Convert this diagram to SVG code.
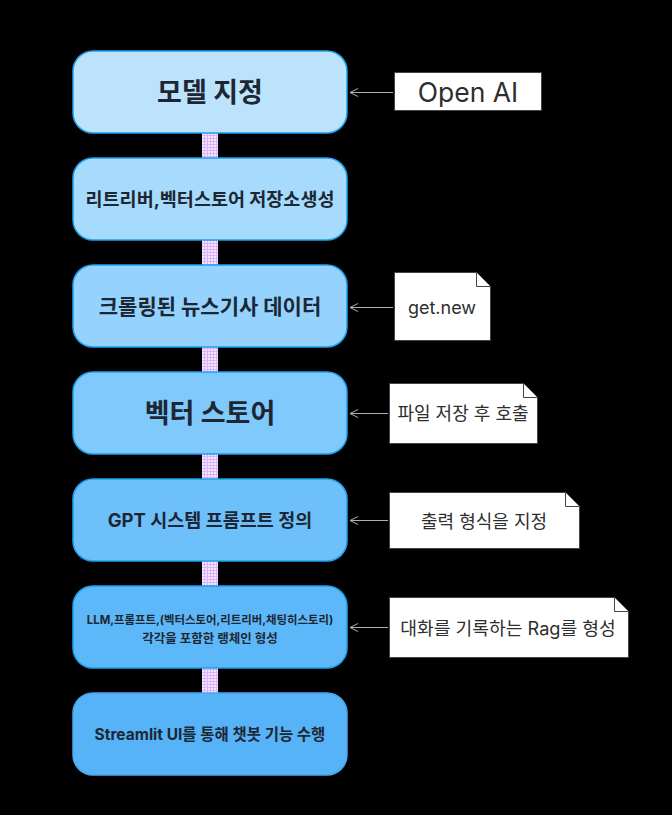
<svg xmlns="http://www.w3.org/2000/svg" width="672" height="815" viewBox="0 0 672 815">
  <style>
    .node rect { stroke: #1fa0ec; stroke-width: 1.5; }
    .label { font-family: "Inter", "Noto Sans CJK KR", sans-serif; font-weight: 700; fill: #1d2733; text-anchor: middle; dominant-baseline: central; }
    .note path, .note rect { fill: #ffffff; stroke: #444; stroke-width: 1; }
    .note text { font-family: "Inter", "Noto Sans CJK KR", sans-serif; fill: #2e2e2e; text-anchor: middle; dominant-baseline: central; }
    .fold { fill: none; stroke: #444; stroke-width: 1; }
    .link { stroke: #b0b0b0; stroke-width: 1; fill: none; marker-end: url(#open); }
    .pipe { fill: url(#check); }
  </style>
  <defs>
    <pattern id="check" width="3" height="3" patternUnits="userSpaceOnUse">
      <rect width="3" height="3" fill="#f4e6fe"/>
      <path d="M0 0.5H3M0.5 0V3" stroke="#dbb2f6" stroke-width="1"/>
    </pattern>
    <marker id="open" viewBox="0 0 10 10" refX="9" refY="5" markerWidth="10" markerHeight="10" orient="auto" markerUnits="userSpaceOnUse">
      <path d="M1 1L9 5L1 9" fill="none" stroke="#b0b0b0" stroke-width="1"/>
    </marker>
  </defs>
  <rect width="672" height="815" fill="#000"/>

  <!-- vertical pipes between steps -->
  <g id="pipes">
    <rect class="pipe" x="202" y="133" width="16" height="26"/>
    <rect class="pipe" x="202" y="240" width="16" height="26"/>
    <rect class="pipe" x="202" y="347" width="16" height="26"/>
    <rect class="pipe" x="202" y="454" width="16" height="26"/>
    <rect class="pipe" x="202" y="561" width="16" height="26"/>
    <rect class="pipe" x="202" y="668" width="16" height="26"/>
  </g>

  <g id="n1" class="node">
    <rect x="73" y="51" width="274" height="82" rx="20" fill="#bde3fc"/>
    <text class="label" x="210" y="92" font-size="27">모델 지정</text>
  </g>
  <g id="n2" class="node">
    <rect x="73" y="158" width="274" height="82" rx="20" fill="#a7dbfd"/>
    <text class="label" x="210" y="199" font-size="18.5">리트리버,벡터스토어 저장소생성</text>
  </g>
  <g id="n3" class="node">
    <rect x="73" y="265" width="274" height="82" rx="20" fill="#95d2fd"/>
    <text class="label" x="210" y="306" font-size="21">크롤링된 뉴스기사 데이터</text>
  </g>
  <g id="n4" class="node">
    <rect x="73" y="372" width="274" height="82" rx="20" fill="#80c9fc"/>
    <text class="label" x="210" y="413" font-size="27">벡터 스토어</text>
  </g>
  <g id="n5" class="node">
    <rect x="73" y="479" width="274" height="82" rx="20" fill="#6ec0fb"/>
    <text class="label" x="210" y="520" font-size="18.5">GPT 시스템 프롬프트 정의</text>
  </g>
  <g id="n6" class="node">
    <rect x="73" y="586" width="274" height="82" rx="20" fill="#5db8fa"/>
    <text class="label" x="210" y="620" font-size="11.4">LLM,프롬프트,(벡터스토어,리트리버,채팅히스토리)</text>
    <text class="label" x="210" y="638" font-size="12.5">각각을 포함한 랭체인 형성</text>
  </g>
  <g id="n7" class="node">
    <rect x="73" y="693" width="274" height="82" rx="20" fill="#56b3f8" style="stroke:#4aa6ea"/>
    <text class="label" x="210" y="734" font-size="15.5">Streamlit UI를 통해 챗봇 기능 수행</text>
  </g>

  <!-- side notes -->
  <g id="note-openai" class="note">
    <rect x="394.5" y="72.5" width="147" height="38"/>
    <text x="468" y="92" font-size="26.5">Open AI</text>
  </g>
  <g id="note-getnew" class="note">
    <path d="M394.5 272.5H476.5L490.5 286.5V340.5H394.5Z"/>
    <path class="fold" d="M476.5 272.5V286.5H490.5"/>
    <text x="442" y="307" font-size="18">get.new</text>
  </g>
  <g id="note-save" class="note">
    <path d="M389.5 383.5H523.5L537.5 397.5V443.5H389.5Z"/>
    <path class="fold" d="M523.5 383.5V397.5H537.5"/>
    <text x="463" y="413" font-size="18">파일 저장 후 호출</text>
  </g>
  <g id="note-format" class="note">
    <path d="M389.5 492.5H565.5L579.5 506.5V548.5H389.5Z"/>
    <path class="fold" d="M565.5 492.5V506.5H579.5"/>
    <text x="484" y="521" font-size="18">출력 형식을 지정</text>
  </g>
  <g id="note-rag" class="note">
    <path d="M389.5 597.5H614.5L628.5 611.5V657.5H389.5Z"/>
    <path class="fold" d="M614.5 597.5V611.5H628.5"/>
    <text x="508" y="628" font-size="18.2">대화를 기록하는 Rag를 형성</text>
  </g>

  <!-- connectors from notes to steps -->
  <g id="links">
    <path class="link" d="M393 92.5H350"/>
    <path class="link" d="M393 307.5H350"/>
    <path class="link" d="M388 413.5H350"/>
    <path class="link" d="M388 520.5H350"/>
    <path class="link" d="M388 627.5H350"/>
  </g>
</svg>
